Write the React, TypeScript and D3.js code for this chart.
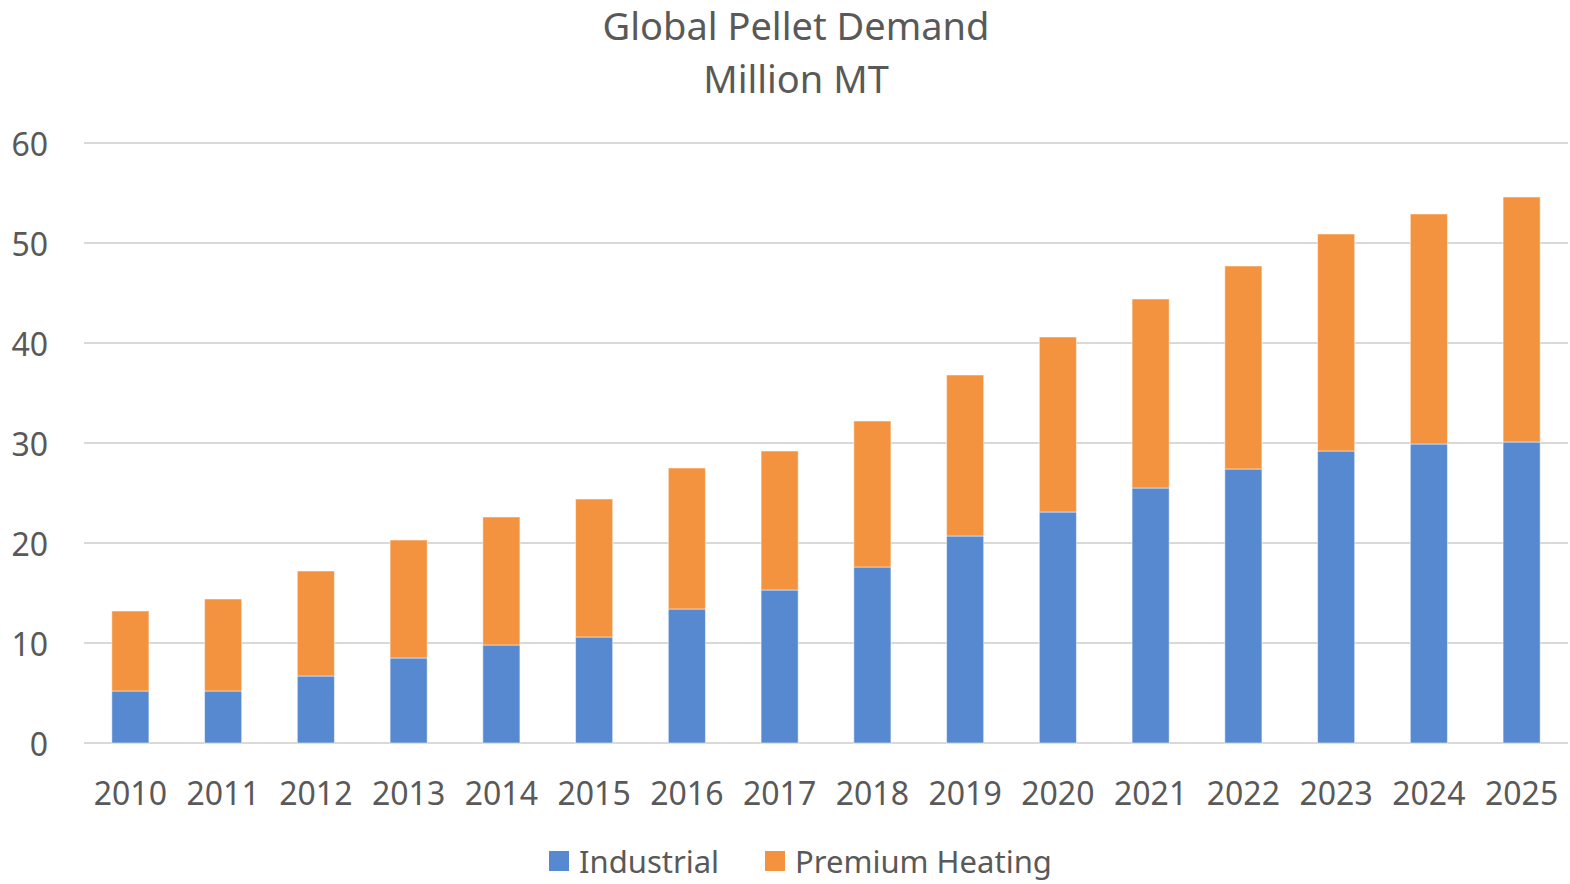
import React, { useRef, useEffect } from "react";
import * as d3 from "d3";

const years = [
  "2010", "2011", "2012", "2013", "2014", "2015", "2016", "2017",
  "2018", "2019", "2020", "2021", "2022", "2023", "2024", "2025",
];
const industrial = [5.2, 5.2, 6.7, 8.5, 9.8, 10.6, 13.4, 15.3, 17.6, 20.7, 23.1, 25.5, 27.4, 29.2, 29.9, 30.1];
const premiumHeating = [8.0, 9.2, 10.5, 11.8, 12.8, 13.8, 14.1, 13.9, 14.6, 16.1, 17.5, 18.9, 20.3, 21.7, 23.0, 24.5];
const seriesNames = ["Industrial", "Premium Heating"];
const yTicks = [0, 10, 20, 30, 40, 50, 60];

const colors = ["#5689CF", "#F3933F"];
const textColor = "#595959";
const font = "'Noto Sans', sans-serif";

interface Row {
  year: string;
  Industrial: number;
  "Premium Heating": number;
}

const App: React.FC = () => {
  const ref = useRef<SVGSVGElement | null>(null);
  const width = 1570;
  const height = 884;

  useEffect(() => {
    const margin = { top: 143, right: 2, bottom: 141, left: 84 };
    const w = width - margin.left - margin.right;
    const h = height - margin.top - margin.bottom;

    const rows: Row[] = years.map((year, i) => ({
      year,
      Industrial: industrial[i],
      "Premium Heating": premiumHeating[i],
    }));

    const root = d3.select(ref.current);
    root.selectAll("*").remove();
    root.attr("width", width).attr("height", height);

    root
      .append("rect")
      .attr("width", width)
      .attr("height", height)
      .attr("fill", "#fff");

    // Title
    const title = root
      .append("text")
      .attr("text-anchor", "middle")
      .attr("fill", textColor)
      .style("font-family", font)
      .style("font-size", "38px");
    title.append("tspan").attr("x", 796).attr("y", 40).text("Global Pellet Demand");
    title.append("tspan").attr("x", 796).attr("y", 93).text("Million MT");

    const svg = root
      .append("g")
      .attr("transform", `translate(${margin.left},${margin.top})`);

    const x = d3.scaleBand<string>().domain(years).range([0, w]).paddingInner(0.6).paddingOuter(0.3);
    const y = d3.scaleLinear().domain([0, 60]).range([h, 0]);

    // Gridlines
    svg
      .append("g")
      .selectAll("line")
      .data(yTicks)
      .enter()
      .append("line")
      .attr("x1", 0)
      .attr("x2", w)
      .attr("y1", (d) => y(d))
      .attr("y2", (d) => y(d))
      .attr("stroke", "#D9D9D9")
      .attr("stroke-width", 2);

    // Stacked bars
    const stack = d3.stack<Row>().keys(seriesNames);
    const layers = stack(rows);

    svg
      .append("g")
      .selectAll("g")
      .data(layers)
      .enter()
      .append("g")
      .attr("fill", (_, i) => colors[i])
      .selectAll("rect")
      .data((d) => d)
      .enter()
      .append("rect")
      .attr("x", (d) => x(d.data.year) as number)
      .attr("width", x.bandwidth())
      .attr("y", (d) => y(d[1]))
      .attr("height", (d) => y(d[0]) - y(d[1]))
      .attr("stroke", "#fff")
      .attr("stroke-opacity", 0.5)
      .attr("stroke-width", 1);

    // Y axis labels
    svg
      .append("g")
      .selectAll("text")
      .data(yTicks)
      .enter()
      .append("text")
      .attr("x", -36)
      .attr("y", (d) => y(d))
      .attr("dy", "0.4em")
      .attr("text-anchor", "end")
      .attr("fill", textColor)
      .style("font-family", font)
      .style("font-size", "32px")
      .text((d) => d);

    // X axis labels
    svg
      .append("g")
      .selectAll("text")
      .data(years)
      .enter()
      .append("text")
      .attr("x", (d) => (x(d) as number) + x.bandwidth() / 2)
      .attr("y", h + 62)
      .attr("text-anchor", "middle")
      .attr("fill", textColor)
      .style("font-family", font)
      .style("font-size", "32px")
      .text((d) => d);

    // Legend (nudged up slightly so descenders stay inside the frame)
    const legendPos = [549, 765];
    const legend = root.append("g");
    seriesNames.forEach((name, i) => {
      legend
        .append("rect")
        .attr("x", legendPos[i])
        .attr("y", 851)
        .attr("width", 20)
        .attr("height", 20)
        .attr("fill", colors[i]);
      legend
        .append("text")
        .attr("x", legendPos[i] + 30)
        .attr("y", 873)
        .attr("fill", textColor)
        .style("font-family", font)
        .style("font-size", "31px")
        .text(name);
    });
  }, []);

  return (
    <div style={{ position: "absolute", left: 0, top: 0, width, height, overflow: "hidden" }}>
      <svg ref={ref} style={{ display: "block" }} />
    </div>
  );
};

export default App;
